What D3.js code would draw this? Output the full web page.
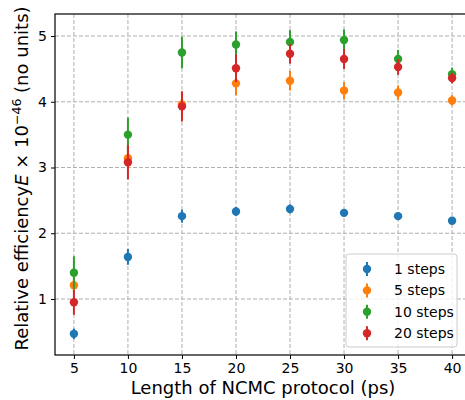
<!DOCTYPE html>
<html>
<head>
<meta charset="utf-8">
<script src="https://cdn.jsdelivr.net/npm/d3@7"></script>
<style>
  body { margin: 0; background: #fff; }
  text { font-family: "DejaVu Sans", sans-serif; fill: #000; }
</style>
</head>
<body>
<figure style="margin:0"></figure>
<script>
// protocol lengths (ps)
const lengths = [5, 10, 15, 20, 25, 30, 35, 40]
const seriesNames = ['1 steps', '5 steps', '10 steps', '20 steps']
const colors = ['#1f77b4', '#ff7f0e', '#2ca02c', '#d62728']

const steps1 = [0.47, 1.64, 2.26, 2.33, 2.37, 2.31, 2.26, 2.19]
const steps1Err = [0.08, 0.12, 0.10, 0.07, 0.07, 0.05, 0.04, 0.04]
const steps5 = [1.21, 3.14, 3.96, 4.28, 4.32, 4.17, 4.14, 4.02]
const steps5Err = [0.10, 0.15, 0.18, 0.18, 0.15, 0.13, 0.11, 0.08]
const steps10 = [1.40, 3.50, 4.75, 4.87, 4.91, 4.94, 4.65, 4.42]
const steps10Err = [0.25, 0.26, 0.24, 0.20, 0.18, 0.16, 0.14, 0.10]
const steps20 = [0.95, 3.08, 3.93, 4.51, 4.73, 4.65, 4.53, 4.36]
const steps20Err = [0.19, 0.26, 0.23, 0.21, 0.15, 0.15, 0.12, 0.08]

const xTicks = [5, 10, 15, 20, 25, 30, 35, 40]
const yTicks = [1, 2, 3, 4, 5]

const series = [
  { name: seriesNames[0], values: steps1, errs: steps1Err },
  { name: seriesNames[1], values: steps5, errs: steps5Err },
  { name: seriesNames[2], values: steps10, errs: steps10Err },
  { name: seriesNames[3], values: steps20, errs: steps20Err }
]

const W = 465, H = 400
const margin = {top: 14, right: -6, bottom: 45, left: 55}
const width = W - margin.left - margin.right,
      height = H - margin.top - margin.bottom

const svg = d3.select('figure').append('svg').attr('width', W).attr('height', H)
const g = svg.append('g').attr('transform', `translate(${margin.left},${margin.top})`)

const x = d3.scaleLinear().domain([3.25, 41.75]).range([0, width])
const y = d3.scaleLinear().domain([0.148, 5.335]).range([height, 0])

// grid
g.append('g').selectAll('line').data(xTicks).join('line')
    .attr('x1', d => x(d)).attr('x2', d => x(d))
    .attr('y1', 0).attr('y2', height)
g.append('g').selectAll('line').data(yTicks).join('line')
    .attr('x1', 0).attr('x2', width)
    .attr('y1', d => y(d)).attr('y2', d => y(d))
g.selectAll('line')
    .attr('stroke', '#b0b0b0').attr('stroke-width', 1).attr('stroke-dasharray', '4,2')

// axes
const xAxis = g.append('g')
    .attr('transform', `translate(0,${height})`)
    .call(d3.axisBottom(x).tickValues(xTicks).tickFormat(d3.format('d')).tickSize(4).tickPadding(4))
const yAxis = g.append('g')
    .call(d3.axisLeft(y).tickValues(yTicks).tickFormat(d3.format('d')).tickSize(4).tickPadding(4))
for (const ax of [xAxis, yAxis]) {
  ax.selectAll('text').attr('font-size', 14).attr('font-family', 'DejaVu Sans').attr('fill', '#000')
  ax.select('.domain').remove()
  ax.selectAll('.tick line').attr('stroke', '#000').attr('stroke-width', 1)
}

// spines (right one falls off the canvas)
g.append('rect')
    .attr('width', width).attr('height', height)
    .attr('fill', 'none').attr('stroke', '#000').attr('stroke-width', 1.2)

// error bars + points
series.forEach((s, i) => {
  const sg = g.append('g')
  sg.selectAll('line').data(lengths).join('line')
      .attr('x1', d => x(d)).attr('x2', d => x(d))
      .attr('y1', (d, j) => y(s.values[j] - s.errs[j]))
      .attr('y2', (d, j) => y(s.values[j] + s.errs[j]))
      .attr('stroke', colors[i]).attr('stroke-width', 2)
  sg.selectAll('circle').data(lengths).join('circle')
      .attr('cx', d => x(d))
      .attr('cy', (d, j) => y(s.values[j]))
      .attr('r', 4.2)
      .attr('fill', colors[i])
})

// axis labels
svg.append('text')
    .attr('x', margin.left + x(22.5)).attr('y', 394)
    .attr('text-anchor', 'middle').attr('font-size', 18)
    .text('Length of NCMC protocol (ps)')

const yl = svg.append('text')
    .attr('transform', `translate(28,${margin.top + height / 2 - 6}) rotate(-90)`)
    .attr('text-anchor', 'middle').attr('font-size', 18)
yl.append('tspan').text('Relative efficiency')
yl.append('tspan').attr('font-style', 'italic').text('E')
yl.append('tspan').text(' × 10')
yl.append('tspan').attr('font-size', 12.5).attr('dy', -7).text('−46')
yl.append('tspan').attr('dy', 7).text(' (no units)')

// legend
const lg = svg.append('g').attr('transform', 'translate(346,254)')
lg.append('rect')
    .attr('width', 111).attr('height', 93).attr('rx', 3)
    .attr('fill', '#fff').attr('fill-opacity', 0.8)
    .attr('stroke', '#ccc').attr('stroke-width', 1)
series.forEach((s, i) => {
  const row = lg.append('g').attr('transform', `translate(0,${15 + i * 21.4})`)
  row.append('line').attr('x1', 21).attr('x2', 21).attr('y1', -7).attr('y2', 7)
      .attr('stroke', colors[i]).attr('stroke-width', 2)
  row.append('circle').attr('cx', 21).attr('cy', 0).attr('r', 4.2).attr('fill', colors[i])
  row.append('text').attr('x', 48).attr('y', 5).attr('font-size', 14).text(s.name)
})
</script>
</body>
</html>
